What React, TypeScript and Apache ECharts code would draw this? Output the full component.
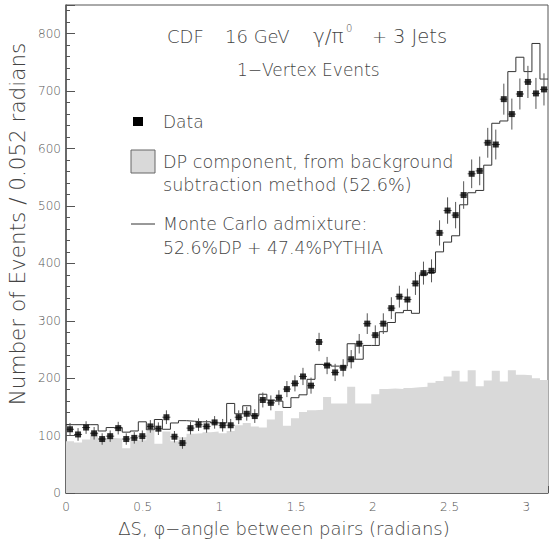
import React, { useEffect, useRef } from "react";
import * as echarts from "echarts";

// 60 bins of width pi/60 (~0.052 rad)
const dataValues = [
  111, 102, 114, 104, 94, 99, 113, 94, 96, 99,
  116, 112, 132, 98, 87, 113, 119, 116, 123, 118,
  118, 132, 138, 134, 162, 157, 166, 181, 191, 203,
  187, 263, 222, 210, 218, 233, 260, 295, 275, 295,
  322, 342, 337, 365, 383, 387, 453, 492, 484, 519,
  556, 561, 610, 607, 686, 660, 695, 716, 696, 703,
];
const dataErrors = [
  11, 11, 11, 11, 10, 10, 11, 10, 10, 10,
  11, 11, 12, 10, 10, 11, 11, 11, 11, 11,
  11, 12, 12, 12, 13, 13, 13, 14, 14, 15,
  14, 16, 15, 15, 15, 16, 17, 18, 17, 18,
  19, 19, 19, 20, 20, 20, 22, 23, 23, 24,
  25, 25, 26, 26, 27, 27, 27, 28, 27, 28,
];
const dpValues = [
  90, 88, 93, 106, 96, 96, 95, 78, 92, 92,
  108, 86, 107, 90, 97, 103, 104, 106, 107, 104,
  108, 118, 122, 116, 114, 128, 143, 117, 130, 141,
  144, 145, 167, 156, 156, 185, 156, 156, 172, 181,
  182, 181, 183, 184, 185, 192, 195, 203, 213, 194,
  214, 186, 196, 213, 194, 214, 206, 205, 200, 197,
];
const mcValues = [
  119, 119, 119, 119, 108, 114, 114, 106, 108, 124,
  110, 128, 111, 122, 126, 125, 124, 124, 122, 122,
  156, 138, 152, 135, 172, 162, 160, 149, 166, 171,
  198, 224, 224, 221, 221, 260, 233, 257, 257, 281,
  297, 314, 318, 313, 380, 384, 420, 437, 448, 502,
  523, 527, 571, 644, 648, 734, 759, 734, 783, 721,
];
const yTicks = [0, 100, 200, 300, 400, 500, 600, 700, 800];
const xTicks = [0, 0.5, 1, 1.5, 2, 2.5, 3];

const NBINS = 60;
const XMAX = Math.PI;
const BW = XMAX / NBINS;

const stepData = (vals: number[]) => {
  const d: number[][] = vals.map((v, i) => [i * BW, v]);
  d.push([XMAX, vals[vals.length - 1]]);
  return d;
};

export default function App() {
  const ref = useRef<HTMLDivElement>(null);
  useEffect(() => {
    if (!ref.current) return;
    const chart = echarts.init(ref.current, null, { renderer: "svg" });
    const font = "DejaVu Sans";
    const tc = "#444";
    const f = (s: number) => `300 ${s}px "${font}"`;
    const pts = dataValues.map((v, i) => [(i + 0.5) * BW, v, dataErrors[i]]);
    const txt = (text: string, x: number, y: number, size: number) => ({
      type: "text", x, y,
      style: { text, fill: tc, font: f(size), textVerticalAlign: "middle" },
    });
    chart.setOption({
      animation: false,
      backgroundColor: "#fff",
      textStyle: { fontFamily: font },
      grid: {
        left: 66, top: 5, right: 0, bottom: 52,
        show: true, borderColor: "#555", borderWidth: 1, backgroundColor: "transparent",
      },
      xAxis: {
        type: "value", min: 0, max: XMAX, interval: 0.5,
        axisLine: { show: true, lineStyle: { color: "#555", width: 1.5 } },
        axisTick: { show: true, inside: true, length: 7, lineStyle: { color: "#555" } },
        minorTick: { show: true, splitNumber: 5, length: 4, lineStyle: { color: "#555" } },
        splitLine: { show: false },
        axisLabel: {
          color: "#555", fontSize: 12, margin: 8, fontFamily: font, fontWeight: 300,
          formatter: (v: number) => (xTicks.includes(v) ? String(v) : ""),
        },
      },
      yAxis: {
        type: "value", min: 0, max: 850, interval: 100,
        axisLine: { show: true, lineStyle: { color: "#555", width: 1.5 } },
        axisTick: { show: true, inside: true, length: 9, lineStyle: { color: "#555" } },
        minorTick: { show: true, splitNumber: 5, length: 4, lineStyle: { color: "#555" } },
        splitLine: { show: false },
        axisLabel: {
          color: "#555", fontSize: 12, margin: 5, fontFamily: font, fontWeight: 300,
          formatter: (v: number) => (yTicks.includes(v) ? String(v) : ""),
        },
      },
      series: [
        {
          type: "line", step: "end", data: stepData(dpValues), symbol: "none",
          lineStyle: { width: 0, color: "#d9d9d9" }, itemStyle: { color: "#d9d9d9" },
          areaStyle: { color: "#d9d9d9", opacity: 1 }, z: 1, silent: true,
        },
        {
          type: "line", step: "end", data: stepData(mcValues), symbol: "none",
          lineStyle: { width: 1, color: "#333" }, z: 3, silent: true,
        },
        {
          type: "custom", data: pts, z: 4, silent: true,
          renderItem: (params: any, api: any) => {
            const x = api.value(0), y = api.value(1), e = api.value(2);
            const top = api.coord([x, y + e]);
            const bot = api.coord([x, y - e]);
            const l = api.coord([x - BW / 2, y]);
            const r = api.coord([x + BW / 2, y]);
            return {
              type: "group",
              children: [
                { type: "line", shape: { x1: top[0], y1: top[1], x2: bot[0], y2: bot[1] }, style: { stroke: "#555", lineWidth: 1 } },
                { type: "line", shape: { x1: l[0], y1: l[1], x2: r[0], y2: r[1] }, style: { stroke: "#555", lineWidth: 1 } },
              ],
            };
          },
        },
        {
          type: "scatter", data: pts.map((p) => [p[0], p[1]]), symbol: "rect", symbolSize: 6,
          itemStyle: { color: "#000" }, z: 5, silent: true,
        },
      ],
      graphic: [
        txt("CDF", 167, 36, 18),
        txt("16 GeV", 225, 36, 18),
        txt("γ/π", 313, 36, 20),
        txt("0", 346, 28, 10),
        txt("+", 372, 36, 18),
        txt("3 Jets", 393, 36, 19.5),
        txt("1−Vertex Events", 237, 70, 17),
        { type: "rect", shape: { x: 133, y: 117, width: 10, height: 9 }, style: { fill: "#000" } },
        txt("Data", 163, 122, 17),
        { type: "rect", shape: { x: 131, y: 150, width: 24, height: 23 }, style: { fill: "#d9d9d9", stroke: "#666", lineWidth: 1 } },
        txt("DP component, from background", 163, 162, 17.6),
        txt("subtraction method (52.6%)", 163, 185, 17.6),
        { type: "line", shape: { x1: 131, y1: 224, x2: 155, y2: 224 }, style: { stroke: "#333", lineWidth: 1 } },
        txt("Monte Carlo admixture:", 163, 224, 17.3),
        txt("52.6%DP + 47.4%PYTHIA", 163, 248, 17.3),
        {
          type: "text", x: 17, y: 224, rotation: Math.PI / 2,
          style: { text: "Number of Events / 0.052 radians", fill: tc, font: f(21.5), textAlign: "center", textVerticalAlign: "middle" },
        },
        {
          type: "text", x: 284, y: 528,
          style: { text: "ΔS, φ−angle between pairs (radians)", fill: tc, font: f(18), textAlign: "center", textVerticalAlign: "middle" },
        },
      ],
    });
    return () => chart.dispose();
  }, []);
  return <div ref={ref} style={{ position: "absolute", left: 0, top: 0, width: 551, height: 545 }} />;
}
